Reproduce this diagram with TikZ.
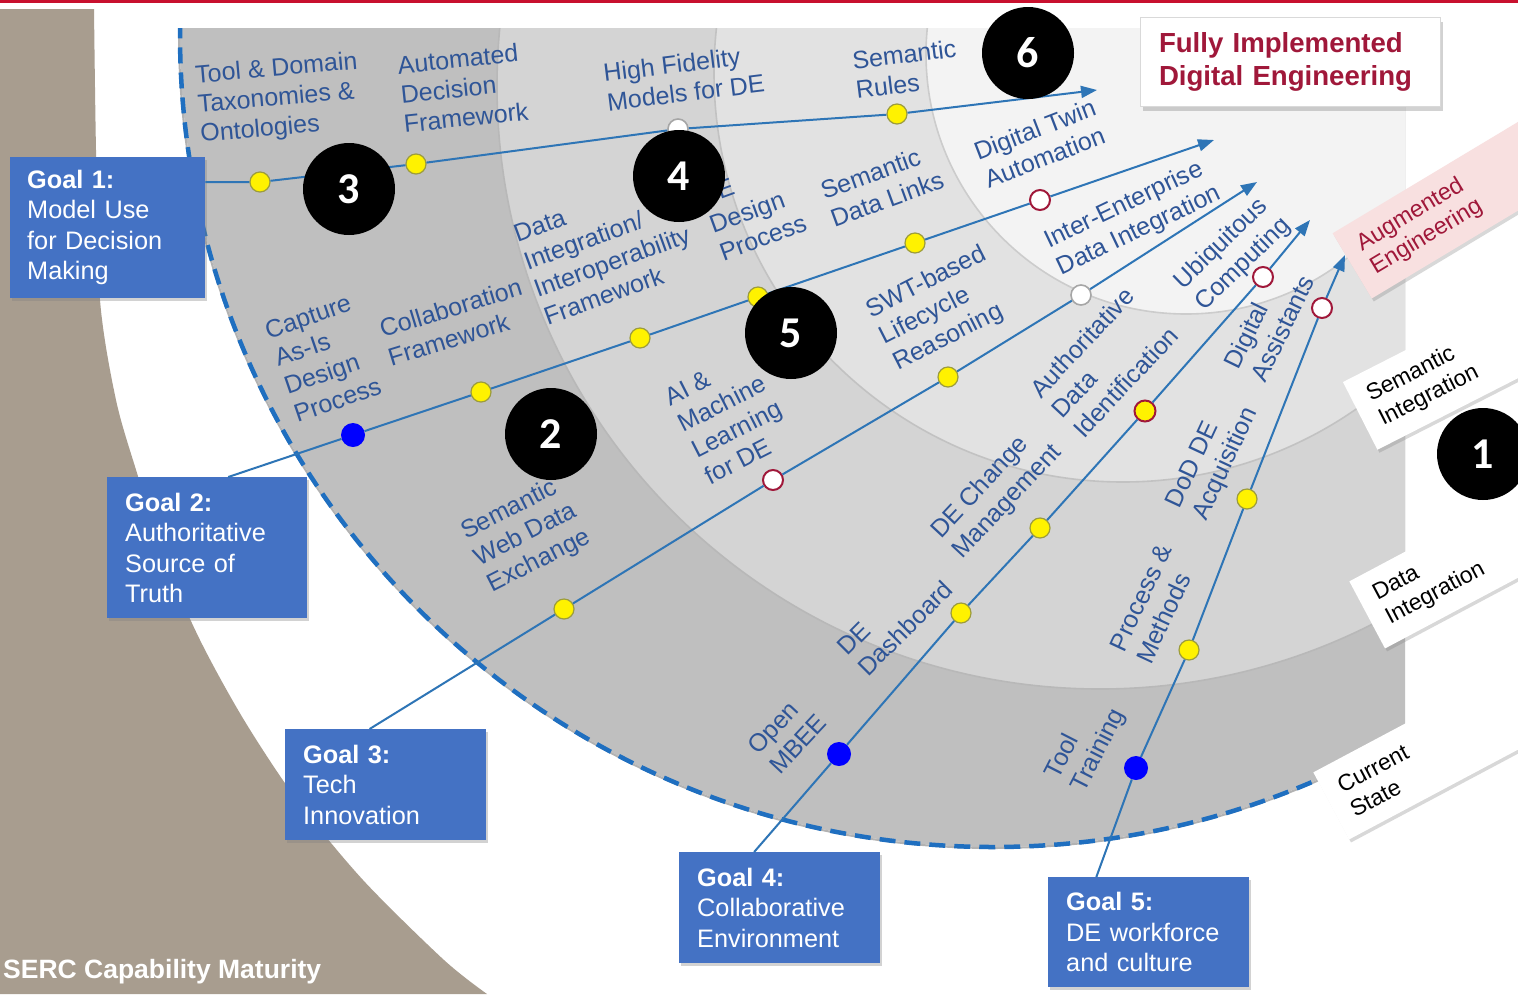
\documentclass[tikz,border=0pt]{standalone}
\usepackage{fontspec}
\setmainfont{Liberation Sans}
\newfontfamily\badgefont{Carlito}
\usetikzlibrary{arrows.meta,shadows,calc}

\definecolor{taupe}{HTML}{A89D8F}
\definecolor{bandA}{HTML}{BFBFBF}
\definecolor{bandB}{HTML}{D4D4D4}
\definecolor{bandC}{HTML}{E2E2E2}
\definecolor{bandD}{HTML}{F3F3F3}
\definecolor{goalblue}{HTML}{4472C4}
\definecolor{linkblue}{HTML}{2E75B6}
\definecolor{ringblue}{HTML}{1F6FC0}
\definecolor{itemblue}{HTML}{2F5597}
\definecolor{wine}{HTML}{A0183A}
\definecolor{pinktag}{HTML}{F8E0E0}
\definecolor{dotrim}{HTML}{9C9C3C}
\definecolor{topred}{HTML}{C8102E}

\begin{document}
\begin{tikzpicture}[x=1pt,y=-1pt,
  goalbox/.style={fill=goalblue, text=white, align=left, anchor=north west,
    inner xsep=18pt, inner ysep=0pt, font=\fontsize{25.3}{30.5}\selectfont,
    drop shadow={shadow xshift=2pt, shadow yshift=-3pt, opacity=0.35}},
  item/.style={text=itemblue, align=left, inner sep=0pt,
    font=\fontsize{25}{29.5}\selectfont},
  link/.style={draw=linkblue, line width=2pt, -{Triangle[length=16pt,width=12pt]}},
  ydot/.style={circle, fill=yellow, draw=dotrim, line width=1.2pt, minimum size=20pt, inner sep=0pt},
  wdot/.style={circle, fill=white, draw=gray!70, line width=1.6pt, minimum size=20pt, inner sep=0pt},
  rdot/.style={circle, fill=white, draw=wine, line width=2pt, minimum size=20pt, inner sep=0pt},
  yrdot/.style={circle, fill=yellow, draw=wine, line width=2pt, minimum size=21pt, inner sep=0pt},
  bdot/.style={circle, fill=blue, minimum size=24pt, inner sep=0pt},
  badge/.style={circle, fill=black, text=white, minimum size=92pt, inner sep=0pt,
    font=\badgefont\bfseries\fontsize{44}{44}\selectfont},
  tag/.style={anchor=west, fill=white, minimum height=76pt, text width=286pt,
    inner xsep=16pt, align=left, font=\fontsize{23}{27}\selectfont,
    drop shadow={shadow xshift=2pt, shadow yshift=-3pt, opacity=0.3}},
  fullbox/.style={fill=white, draw=black!15, line width=1pt, minimum height=89pt,
    text width=262pt, inner xsep=19pt, align=left, text=wine,
    font=\bfseries\fontsize{27.6}{33}\selectfont,
    drop shadow={shadow xshift=3pt, shadow yshift=-4pt, opacity=0.35}}
]
\useasboundingbox (0,0) rectangle (1518,994);
\fill[white] (0,0) rectangle (1518,994);

% thin rule along the top
\fill[topred] (0,0) rectangle (1518,2.5);

% taupe backdrop on the left
\fill[taupe] (0,9) -- plot[smooth] coordinates {(94,9) (96,150) (100,300) (116,400)
  (137,473) (165,560) (200,640) (244,720) (297,800) (363,880) (444,960) (487,994)}
  -- (0,994) -- cycle;

% maturity bands
\begin{scope}
  \clip (150,28) rectangle (1405,994);
  \fill[bandA] (993,34) circle[radius=813];
  \draw[black!30, line width=2pt] (993,34) circle[radius=814];
  \fill[bandB, draw=black!28, line width=1.6pt] (1100,86) circle[radius=603];
  \fill[bandC, draw=black!24, line width=1.6pt] (1123,73) circle[radius=409];
  \fill[bandD, draw=black!20, line width=1.6pt] (1186,54) circle[radius=260];
  \draw[ringblue, line width=4.5pt, dash pattern=on 16pt off 9pt] (993,34) circle[radius=813];
\end{scope}

% level tags on the right
\node[tag, rotate=28] (cur) at (1331,806) {Current\\State};
\node[tag, rotate=28] (dint) at (1367,615) {Data\\Integration};
\node[tag, rotate=27] (sint) at (1360,416) {Semantic\\Integration};
\node[tag, rotate=31, fill=pinktag, text=wine, font=\fontsize{23.5}{27}\selectfont] (aug) at (1352,266) {Augmented\\Engineering};

\node[fullbox] (full) at (1290,62) {Fully Implemented\\Digital Engineering};

% goal boxes
\node[goalbox, minimum height=141pt, text width=161pt, inner xsep=17pt] (g1) at (10,157)
  {\textbf{Goal 1:}\\Model Use\\for Decision\\Making};
\node[goalbox, minimum height=141pt, text width=164pt] (g2) at (107,477)
  {\textbf{Goal 2:}\\Authoritative\\Source of\\Truth};
\node[goalbox, minimum height=111pt, text width=165pt] (g3) at (285,729)
  {\textbf{Goal 3:}\\Tech\\Innovation};
\node[goalbox, minimum height=111pt, text width=165pt] (g4) at (679,852)
  {\textbf{Goal 4:}\\Collaborative\\Environment};
\node[goalbox, minimum height=110pt, text width=165pt] (g5) at (1048,877)
  {\textbf{Goal 5:}\\DE workforce\\and culture};

% milestones along each goal line
\node[ydot] (d11) at (260,182) {};
\node[ydot] (d12) at (416,164) {};
\node[wdot] (d13) at (678,129) {};
\node[ydot] (d14) at (897,114) {};
\coordinate (t1) at (1097,90);

\node[bdot] (d21) at (353,435) {};
\node[ydot] (d22) at (481,392) {};
\node[ydot] (d23) at (640,338) {};
\node[ydot] (d24) at (758,297) {};
\node[ydot] (d25) at (915,243) {};
\node[rdot] (d26) at (1040,200) {};
\coordinate (t2) at (1214,140);

\node[ydot] (d31) at (564,609) {};
\node[rdot] (d32) at (773,480) {};
\node[ydot] (d33) at (948,377) {};
\node[wdot] (d34) at (1081,295) {};
\coordinate (t3) at (1257,182);

\node[bdot] (d41) at (839,754) {};
\node[ydot] (d42) at (961,613) {};
\node[ydot] (d43) at (1040,528) {};
\node[yrdot] (d44) at (1145,411) {};
\node[rdot] (d45) at (1263,277) {};
\coordinate (t4) at (1310,220);

\node[bdot] (d51) at (1136,768) {};
\node[ydot] (d52) at (1189,650) {};
\node[ydot] (d53) at (1247,499) {};
\node[rdot] (d54) at (1322,308) {};
\coordinate (t5) at (1345,255);

% goal lines
\draw[link] (g1.east |- d11) -- (d11) -- (d12) -- (d13) -- (d14) -- (t1);
\draw[link] ($(g2.north west)!0.605!(g2.north east)$) -- (d21) -- (d22) -- (d23) -- (d24) -- (d25) -- (d26) -- (t2);
\draw[link] ($(g3.north west)!0.42!(g3.north east)$) -- (d31) -- (d32) -- (d33) -- (d34) -- (t3);
\draw[link] ($(g4.north west)!0.373!(g4.north east)$) -- (d41) -- (d42) -- (d43) -- (d44) -- (d45) -- (t4);
\draw[link] ($(g5.north west)!0.24!(g5.north east)$) -- (d51) -- (d52) -- (d53) -- (d54) -- (t5);

% milestone labels
\node[item, rotate=5] (l1) at (279,99) {Tool \& Domain\\Taxonomies \&\\Ontologies};
\node[item, rotate=6] (l2) at (463,88) {Automated\\Decision\\Framework};
\node[item, rotate=7] (l3) at (684,78) {High Fidelity\\Models for DE};
\node[item, rotate=7] (l4) at (906,69) {Semantic\\Rules};
\node[item, rotate=19] (l5) at (323,358) {Capture\\As-Is\\Design\\Process};
\node[item, rotate=17] (l6) at (455,322) {Collaboration\\Framework};
\node[item, rotate=20] (l7) at (607,248) {Data\\Integration/\\Interoperability\\Framework};
\node[item, rotate=20] (l8) at (753,210) {DE\\Design\\Process};
\node[item, rotate=20] (l9) at (882,185) {Semantic\\Data Links};
\node[item, rotate=21] (l10) at (1040,143) {Digital Twin\\Automation};
\node[item, rotate=27] (l11) at (526,535) {Semantic\\Web Data\\Exchange};
\node[item, rotate=27] (l12) at (730,416) {AI \&\\Machine\\Learning\\for DE};
\node[item, rotate=27] (l13) at (940,309) {SWT-based\\Lifecycle\\Reasoning};
\node[item, rotate=25.5] (l14) at (1133,218) {Inter-Enterprise\\Data Integration};
\node[item, rotate=47] (l15) at (787,734) {Open\\MBEE};
\node[item, rotate=45] (l16) at (895,618) {DE\\Dashboard};
\node[item, rotate=47] (l17) at (997,492) {DE Change\\Management};
\node[item, rotate=47] (l18) at (1104,362) {Authoritative\\Data\\Identification};
\node[item, rotate=44] (l19) at (1233,254) {Ubiquitous\\Computing};
\node[item, rotate=63] (l20) at (1086,744) {Tool\\Training};
\node[item, rotate=65] (l21) at (1154,604) {Process \&\\Methods};
\node[item, rotate=65] (l22) at (1213,458) {DoD DE\\Acquisition};
\node[item, rotate=64] (l23) at (1269,322) {Digital\\Assistants};

% numbered markers
\node[badge] (n1) at (1483,454) {1};
\node[badge] (n2) at (551,434) {2};
\node[badge] (n3) at (349,189) {3};
\node[badge] (n4) at (679,176) {4};
\node[badge] (n5) at (791,333) {5};
\node[badge] (n6) at (1028,53) {6};

\node[anchor=west, text=white, inner sep=0pt, font=\bfseries\fontsize{26.5}{30}\selectfont]
  (serc) at (3,972) {SERC Capability Maturity};
\end{tikzpicture}
\end{document}
